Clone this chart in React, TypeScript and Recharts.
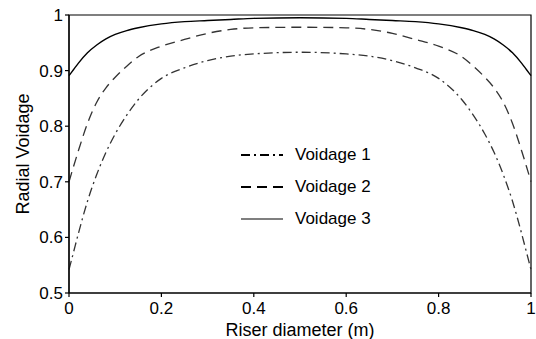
import React from 'react';
import {
  LineChart,
  Line,
  XAxis,
  YAxis,
  ReferenceArea,
  Label,
} from 'recharts';

// radial positions across the riser (m)
const positions = [
  0, 0.01, 0.02, 0.04, 0.06, 0.08, 0.1, 0.125, 0.15, 0.2, 0.25, 0.3, 0.35, 0.4, 0.5,
  0.6, 0.65, 0.7, 0.75, 0.8, 0.85, 0.875, 0.9, 0.92, 0.94, 0.96, 0.98, 0.99, 1,
];

const voidage1 = [
  0.542, 0.574, 0.606, 0.665, 0.713, 0.753, 0.786, 0.82, 0.848, 0.886, 0.905, 0.918, 0.926, 0.93, 0.933,
  0.93, 0.926, 0.918, 0.905, 0.886, 0.848, 0.82, 0.786, 0.753, 0.713, 0.665, 0.606, 0.574, 0.542,
];

const voidage2 = [
  0.7, 0.728, 0.755, 0.805, 0.843, 0.869, 0.888, 0.908, 0.925, 0.944, 0.956, 0.967, 0.974, 0.977, 0.978,
  0.977, 0.974, 0.967, 0.956, 0.944, 0.925, 0.908, 0.888, 0.869, 0.843, 0.805, 0.755, 0.728, 0.7,
];

const voidage3 = [
  0.891, 0.902, 0.913, 0.932, 0.946, 0.957, 0.965, 0.972, 0.977, 0.984, 0.988, 0.99, 0.992, 0.994, 0.995,
  0.994, 0.992, 0.99, 0.988, 0.984, 0.977, 0.972, 0.965, 0.957, 0.946, 0.932, 0.913, 0.902, 0.891,
];

const xTicks = [0, 0.2, 0.4, 0.6, 0.8, 1];
const yTicks = [0.5, 0.6, 0.7, 0.8, 0.9, 1];

const seriesNames = ['Voidage 1', 'Voidage 2', 'Voidage 3'];
const seriesDash = ['9 4 2 4', '10 6', ''];
const seriesColor = ['#333', '#333', '#000'];

const data = positions.map((x, i) => ({
  x,
  v1: voidage1[i],
  v2: voidage2[i],
  v3: voidage3[i],
}));

const FONT = '"Liberation Sans", Arial, sans-serif';

// legend sits inside the plot box, drawn as an overlay so it takes no room from the chart
const LegendBox = () => (
  <div
    style={{
      position: 'absolute',
      left: 239,
      top: 139,
      fontFamily: FONT,
      fontSize: 17,
      color: '#000',
    }}
  >
    {seriesNames.map((name, i) => (
      <div key={name} style={{ display: 'flex', alignItems: 'center', height: 32 }}>
        <svg width={56} height={10}>
          <line
            x1={2}
            y1={5}
            x2={44}
            y2={5}
            stroke="#000"
            strokeWidth={i === 2 ? 1.2 : 2}
            strokeDasharray={seriesDash[i]}
          />
        </svg>
        <span>{name}</span>
      </div>
    ))}
  </div>
);

export default function App() {
  const tickStyle = { fontSize: 17, fill: '#000', fontFamily: FONT };
  return (
    <div style={{ position: 'absolute', left: 0, top: 0, width: 536, height: 339, background: '#fff' }}>
      <LineChart
        width={536}
        height={339}
        data={data}
        margin={{ top: 15, right: 5, left: 0, bottom: 0 }}
      >
        <XAxis
          dataKey="x"
          type="number"
          domain={[0, 1]}
          ticks={xTicks}
          tickFormatter={(v) => String(v)}
          tick={tickStyle}
          tickSize={4}
          tickMargin={5}
          height={46}
          stroke="#000"
          strokeWidth={1.2}
        >
          <Label
            value="Riser diameter (m)"
            position="insideBottom"
            offset={3}
            style={{ fontSize: 18, fill: '#000', fontFamily: FONT }}
          />
        </XAxis>
        <YAxis
          type="number"
          domain={[0.5, 1]}
          ticks={yTicks}
          tickFormatter={(v) => String(v)}
          tick={tickStyle}
          tickSize={4}
          tickMargin={2}
          width={69}
          stroke="#000"
          strokeWidth={1.2}
        >
          <Label
            value="Radial Voidage"
            angle={-90}
            position="insideLeft"
            offset={23}
            style={{ fontSize: 18, fill: '#000', fontFamily: FONT, textAnchor: 'middle' }}
          />
        </YAxis>
        <ReferenceArea x1={0} x2={1} y1={0.5} y2={1} fill="none" stroke="#000" strokeWidth={1.2} />
        <Line
          type="monotone"
          dataKey="v1"
          name={seriesNames[0]}
          stroke={seriesColor[0]}
          strokeWidth={1.3}
          strokeDasharray={seriesDash[0]}
          dot={false}
          isAnimationActive={false}
        />
        <Line
          type="monotone"
          dataKey="v2"
          name={seriesNames[1]}
          stroke={seriesColor[1]}
          strokeWidth={1.3}
          strokeDasharray={seriesDash[1]}
          dot={false}
          isAnimationActive={false}
        />
        <Line
          type="monotone"
          dataKey="v3"
          name={seriesNames[2]}
          stroke={seriesColor[2]}
          strokeWidth={1.4}
          dot={false}
          isAnimationActive={false}
        />
      </LineChart>
      <LegendBox />
    </div>
  );
}
